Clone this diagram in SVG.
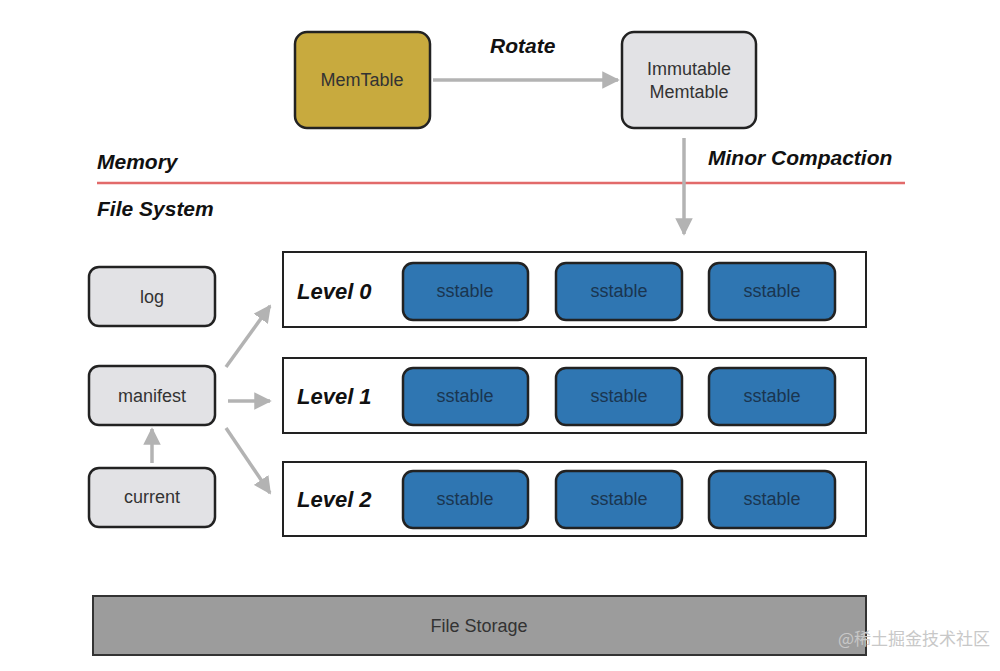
<svg xmlns="http://www.w3.org/2000/svg" width="1000" height="671" viewBox="0 0 1000 671">
<style>
.b{stroke:#222;stroke-width:2.5}
.g{fill:#e2e2e5}
.s{fill:#2f76b2}
.t{font-family:"Liberation Sans",Arial,sans-serif;font-size:18px;fill:#333;text-anchor:middle}
.st{font-family:"Liberation Sans",Arial,sans-serif;font-size:18px;fill:#1a3550;text-anchor:middle}
.h{font-family:"Liberation Sans",Arial,sans-serif;font-size:21px;font-weight:bold;font-style:italic;fill:#111}
.lv{font-size:22px}
.c{stroke:#b3b3b3;stroke-width:3.5;fill:none}
</style>
<defs><marker id="a" viewBox="0 0 10 10" refX="9" refY="5" markerWidth="5" markerHeight="5" orient="auto"><path d="M0,0L10,5L0,10z" fill="#b3b3b3"/></marker></defs>
<rect width="1000" height="671" fill="#fff"/>
<g id="memtable"><rect class="b" x="295" y="32" width="135" height="96" rx="12" fill="#c8aa3e"/><text class="t" x="362" y="86">MemTable</text></g>
<g id="immutable"><rect class="b g" x="622" y="32" width="134" height="96" rx="12"/><text class="t" x="689" y="75">Immutable</text><text class="t" x="689" y="98">Memtable</text></g>
<text class="h" x="490" y="53">Rotate</text>
<text class="h" x="97" y="169">Memory</text>
<text class="h" x="708" y="165">Minor Compaction</text>
<text class="h" x="97" y="216">File System</text>
<line x1="97" y1="183" x2="905" y2="183" stroke="#e26a6a" stroke-width="2.5"/>
<g id="log"><rect class="b g" x="89" y="267" width="126" height="59" rx="10"/><text class="t" x="152" y="303">log</text></g>
<g id="manifest"><rect class="b g" x="89" y="366" width="126" height="59" rx="10"/><text class="t" x="152" y="402">manifest</text></g>
<g id="current"><rect class="b g" x="89" y="468" width="126" height="59" rx="10"/><text class="t" x="152" y="503">current</text></g>
<g id="level0"><rect x="283" y="252" width="583" height="75" fill="#fff" stroke="#222" stroke-width="2"/><text class="h lv" x="297" y="299">Level 0</text>
<rect class="b s" x="403" y="263" width="125" height="57" rx="10"/><text class="st" x="465" y="297">sstable</text>
<rect class="b s" x="556" y="263" width="126" height="57" rx="10"/><text class="st" x="619" y="297">sstable</text>
<rect class="b s" x="709" y="263" width="126" height="57" rx="10"/><text class="st" x="772" y="297">sstable</text></g>
<g id="level1"><rect x="283" y="358" width="583" height="75" fill="#fff" stroke="#222" stroke-width="2"/><text class="h lv" x="297" y="404">Level 1</text>
<rect class="b s" x="403" y="368" width="125" height="57" rx="10"/><text class="st" x="465" y="402">sstable</text>
<rect class="b s" x="556" y="368" width="126" height="57" rx="10"/><text class="st" x="619" y="402">sstable</text>
<rect class="b s" x="709" y="368" width="126" height="57" rx="10"/><text class="st" x="772" y="402">sstable</text></g>
<g id="level2"><rect x="283" y="462" width="583" height="74" fill="#fff" stroke="#222" stroke-width="2"/><text class="h lv" x="297" y="507">Level 2</text>
<rect class="b s" x="403" y="471" width="125" height="57" rx="10"/><text class="st" x="465" y="505">sstable</text>
<rect class="b s" x="556" y="471" width="126" height="57" rx="10"/><text class="st" x="619" y="505">sstable</text>
<rect class="b s" x="709" y="471" width="126" height="57" rx="10"/><text class="st" x="772" y="505">sstable</text></g>
<g id="storage"><rect x="93" y="596" width="773" height="59" fill="#9c9c9c" stroke="#333" stroke-width="2"/><text class="t" x="479" y="632">File Storage</text></g>
<g id="connectors">
<line class="c" x1="433" y1="80" x2="618" y2="80" marker-end="url(#a)"/>
<line class="c" x1="684" y1="138" x2="684" y2="234" marker-end="url(#a)"/>
<line class="c" x1="226" y1="367" x2="270" y2="306" marker-end="url(#a)"/>
<line class="c" x1="228" y1="401" x2="270" y2="401" marker-end="url(#a)"/>
<line class="c" x1="226" y1="428" x2="270" y2="493" marker-end="url(#a)"/>
<line class="c" x1="152" y1="463" x2="152" y2="429" marker-end="url(#a)"/>
</g>
<text x="990" y="645" font-family="Noto Sans CJK SC,sans-serif" font-size="17" fill="#c8c8c8" text-anchor="end">@稀土掘金技术社区</text>
</svg>
